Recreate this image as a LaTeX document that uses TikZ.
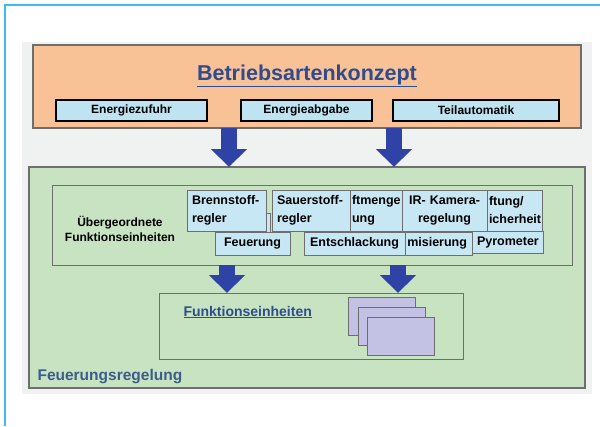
\documentclass[tikz,border=0pt]{standalone}
\usepackage{fontspec}
\setmainfont{Liberation Sans}
\usepackage{tikz}
\usetikzlibrary{arrows.meta}
\definecolor{framecol}{HTML}{3DBDEB}
\definecolor{bgcol}{HTML}{F0F2F1}
\definecolor{okorange}{HTML}{F9C196}
\definecolor{subblue}{HTML}{BEE4F2}
\definecolor{regelgreen}{HTML}{C7E3C1}
\definecolor{feblue}{HTML}{C8E7F4}
\definecolor{feviolet}{HTML}{C4C2E4}
\definecolor{arrowblue}{HTML}{2F43A6}
\definecolor{titleblue}{HTML}{2E4C8E}
\definecolor{labelblue}{HTML}{3C5C8C}
\definecolor{edgegray}{HTML}{6E6E6E}

\begin{document}
\begin{tikzpicture}[x=1pt, y=-1pt,
    area/.style={draw=edgegray, line width=1.2pt, inner sep=0pt, outer sep=0pt, anchor=north west},
    sub/.style={draw=black, line width=1.8pt, fill=subblue, inner sep=0pt, outer sep=0pt,
        anchor=north west, minimum height=21pt, font=\bfseries\fontsize{12}{14}\selectfont},
    fe/.style={draw=edgegray, line width=0.8pt, fill=feblue, inner xsep=5pt, inner ysep=0pt,
        outer sep=0pt, anchor=north west, font=\bfseries\fontsize{12.5}{18}\selectfont},
    sheet/.style={draw=edgegray, line width=0.8pt, fill=feviolet, inner sep=0pt, outer sep=0pt,
        anchor=north west, minimum width=67pt, minimum height=38pt},
    bigarrow/.style={draw=arrowblue, line width=16pt, -{Triangle[width=35pt,length=18pt]}}]
    \useasboundingbox (0,0) rectangle (600,426);
    \fill[bgcol] (22,42) rectangle (592,394);
    \draw[framecol, line width=1.5pt] (5,426) -- (5,5) -- (600,5);

    % Betriebsartenkonzept
    \node[area, fill=okorange, minimum width=548pt, minimum height=83pt] (ok) at (33,45) {};
    \node[font=\bfseries\fontsize{21.5}{24}\selectfont, text=titleblue] (title) at (307,76)
        {\underline{Betriebsartenkonzept}};
    \node[sub, minimum width=151pt] (ez) at (56,100) {Energiezufuhr};
    \node[sub, minimum width=131pt] (ea) at (241,100) {Energieabgabe};
    \node[sub, minimum width=166pt] (ta) at (393,100) {Teilautomatik};

    % Feuerungsregelung
    \node[area, fill=regelgreen, minimum width=556pt, minimum height=221pt] (frg) at (29,167) {};
    \node[anchor=west, text=labelblue, font=\bfseries\fontsize{15.5}{18}\selectfont] (frglbl)
        at (34,377) {Feuerungsregelung};

    % Uebergeordnete Funktionseinheiten
    \node[area, fill=regelgreen, line width=1pt, minimum width=520pt, minimum height=80pt] (ufe) at (52,185) {};
    \node[align=center, font=\bfseries\fontsize{12}{15}\selectfont] (ufetxt) at (120,229)
        {Übergeordnete\\Funktionseinheiten};
    \node[fe, minimum width=30pt, minimum height=19pt] (hidden) at (240,213) {};
    \node[fe, minimum width=75pt, minimum height=23pt] (feu) at (215,232) {Feuerung};
    \node[fe, align=left, text width=69pt, minimum height=41pt] (bst) at (187,190) {Brennstoff-\\regler};
    \node[fe, align=left, text width=45pt, minimum height=41pt] (lfm) at (347,190) {ftmenge\\ung};
    \node[fe, align=left, text width=68pt, minimum height=41pt] (sst) at (272,190) {Sauerstoff-\\regler};
    \node[fe, align=right, text width=67pt, minimum height=23pt] (opt) at (395,232) {misierung};
    \node[fe, minimum width=101pt, minimum height=23pt] (ent) at (304,232) {Entschlackung};
    \node[fe, align=left, text width=48pt, minimum height=41pt] (sich) at (484,190) {ftung/\\icherheit};
    \node[fe, align=center, text width=75pt, minimum height=41pt] (ir) at (402,190) {IR- Kamera-\\regelung};
    \node[fe, minimum width=68pt, minimum height=22pt] (pyr) at (472,231) {Pyrometer};

    % Funktionseinheiten
    \node[area, fill=regelgreen, line width=1pt, minimum width=304pt, minimum height=66pt] (fe2) at (159,293) {};
    \node[anchor=west, text=titleblue, font=\bfseries\fontsize{14}{16}\selectfont] (fetxt)
        at (180,312) {\underline{Funktionseinheiten}};
    \node[sheet] (p1) at (348,297) {};
    \node[sheet] (p2) at (358,307) {};
    \node[sheet] (p3) at (367,317) {};

    % Pfeile
    \coordinate (xl) at (229,0);
    \coordinate (xr) at (394,0);
    \coordinate (yl) at (227,0);
    \coordinate (yr) at (398,0);
    \draw[bigarrow] (ok.south -| xl) -- (frg.north -| xl);
    \draw[bigarrow] (ok.south -| xr) -- (frg.north -| xr);
    \draw[bigarrow] (ufe.south -| yl) -- (fe2.north -| yl);
    \draw[bigarrow] (ufe.south -| yr) -- (fe2.north -| yr);
\end{tikzpicture}
\end{document}
